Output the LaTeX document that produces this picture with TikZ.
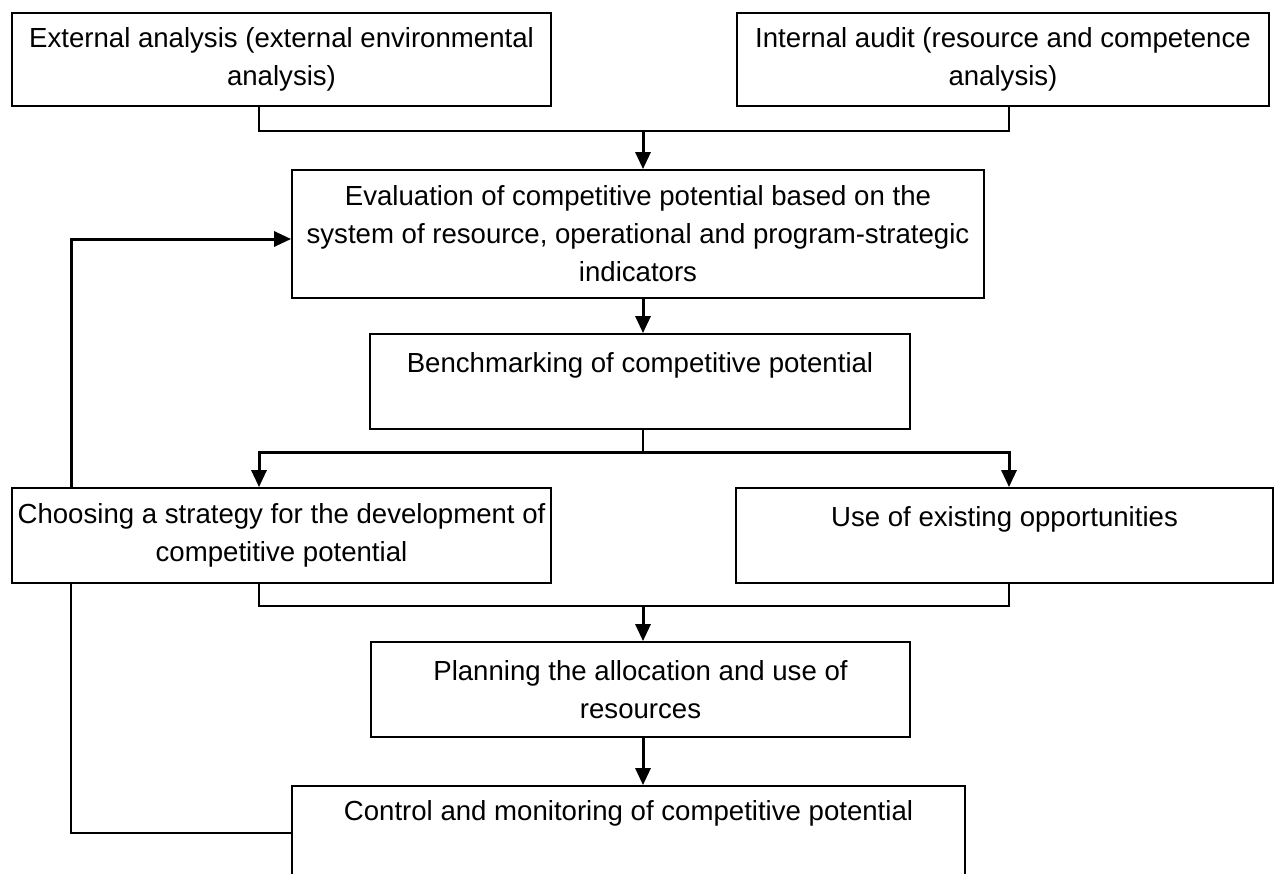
\documentclass[tikz,border=0pt]{standalone}
\usepackage{fontspec}
\setmainfont{Liberation Sans}
\usetikzlibrary{arrows.meta}
\begin{document}
\begin{tikzpicture}[>={Triangle[length=17bp,width=15bp]},line join=miter,
  box/.style={draw,line width=1.8bp,inner sep=0bp,align=center,
    font=\fontsize{27.6bp}{38bp}\selectfont},
  conn/.style={line width=1.8bp},
  arr/.style={->,line width=3bp}]
  \useasboundingbox (0bp,0bp) rectangle (1277bp,-874bp);
%%
  % Columns and junctions
  \coordinate (colL) at (259bp,0bp);
  \coordinate (colM) at (643bp,0bp);
  \coordinate (colR) at (1009bp,0bp);
  \coordinate (fb) at (71bp,0bp);
  \coordinate (jtop) at (643bp,-131bp);
  \coordinate (jmid) at (643bp,-452bp);
  \coordinate (jlow) at (643bp,-606bp);
  \coordinate (fblow) at (0bp,-833bp);
  % Node: ext
  \node[box,minimum width=539bp,minimum height=93bp] (ext) at (281.5bp,-59.5bp)
    {External analysis (external environmental\\analysis)};
  % Node: int
  \node[box,minimum width=532bp,minimum height=93bp] (int) at (1003bp,-59.5bp)
    {Internal audit (resource and competence\\analysis)};
  % Node: eval
  \node[box,minimum width=692bp,minimum height=128bp] (eval) at (638bp,-234bp)
    {Evaluation of competitive potential based on the\\system of resource, operational and program-strategic\\indicators};
  % Node: bench
  \node[box,minimum width=540bp,minimum height=95bp] (bench) at (640bp,-381.5bp)
    {Benchmarking of competitive potential\\\mbox{}};
  % Node: choose
  \node[box,minimum width=539bp,minimum height=95bp] (choose) at (281.5bp,-535.5bp)
    {Choosing a strategy for the development of\\competitive potential};
  % Node: use
  \node[box,minimum width=537bp,minimum height=95bp] (use) at (1004.5bp,-535.5bp)
    {Use of existing opportunities\\\mbox{}};
  % Node: plan
  \node[box,minimum width=539bp,minimum height=95bp] (plan) at (640.5bp,-689.5bp)
    {Planning the allocation and use of\\resources};
  % Node: ctrl
  \node[box,minimum width=673bp,minimum height=124bp] (ctrl) at (628.5bp,-848bp)
    {Control and monitoring of competitive potential\\\mbox{}\\\mbox{}};
%
  % Edge: ext, int -> eval
  \draw[conn] (ext.south -| colL) |- (jtop) -| (int.south -| colR);
  \draw[arr] (jtop) -- (eval.north -| jtop);
  % Edge: eval -> bench
  \draw[arr] (eval.south -| colM) -- (bench.north -| colM);
  % Edge: bench -> choose, use
  \draw[conn] (bench.south -| colM) -- (jmid);
  \draw[arr] (jmid) -| (choose.north -| colL);
  \draw[arr] (jmid) -| (use.north -| colR);
  % Edge: choose, use -> plan
  \draw[conn] (choose.south -| colL) |- (jlow) -| (use.south -| colR);
  \draw[arr] (jlow) -- (plan.north -| jlow);
  % Edge: plan -> ctrl
  \draw[arr] (plan.south -| colM) -- (ctrl.north -| colM);
  % Edge: choose -> eval (feedback)
  \draw[arr] (choose.north -| fb) |- ([yshift=-5bp]eval.west);
  % Edge: ctrl -> choose (feedback)
  \draw[conn] (ctrl.west |- fblow) -| (choose.south -| fb);
%
\end{tikzpicture}
\end{document}
